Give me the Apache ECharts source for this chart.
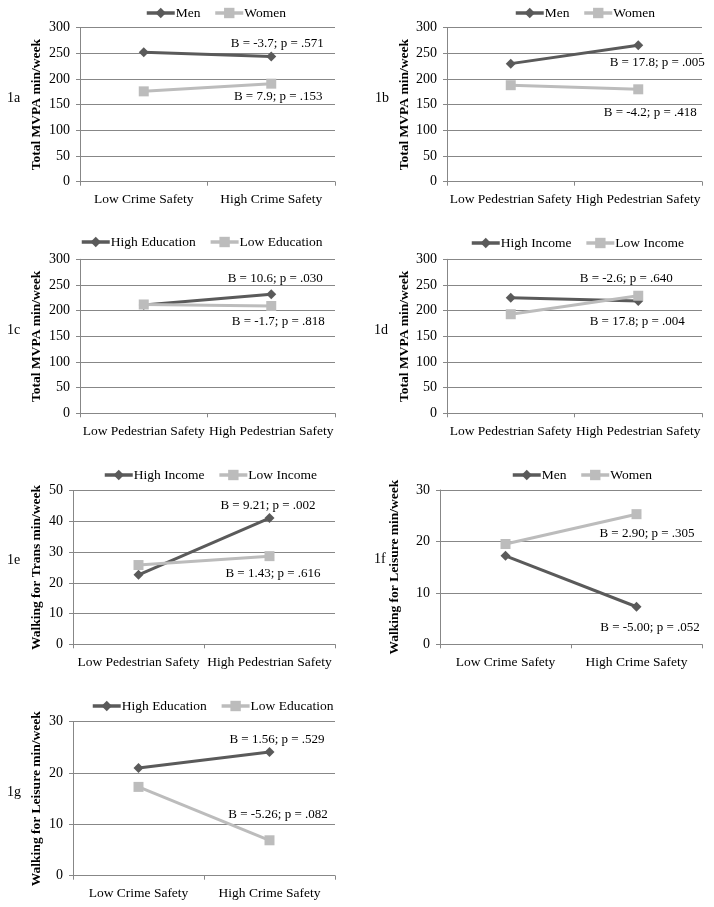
<!DOCTYPE html>
<html><head><meta charset="utf-8">
<script src="https://cdn.jsdelivr.net/npm/echarts@6/dist/echarts.min.js"></script>
<style>html,body{margin:0;padding:0;background:#fff}#c{width:714px;height:907px}</style>
</head><body><div id="c"></div>
<script>
// ---- categories ----
const crimeCats = ['Low Crime Safety', 'High Crime Safety'];
const pedCats = ['Low Pedestrian Safety', 'High Pedestrian Safety'];

// ---- panel labels / axis titles / scales ----
const panelLabels = ['1a', '1b', '1c', '1d', '1e', '1f', '1g'];
const yTitles = ['Total MVPA min/week', 'Total MVPA min/week', 'Total MVPA min/week', 'Total MVPA min/week',
  'Walking for Trans min/week', 'Walking for Leisure min/week', 'Walking for Leisure min/week'];
const yMax = [300, 300, 300, 300, 50, 30, 30];
const yStep = [50, 50, 50, 50, 10, 10, 10];

// ---- series names ----
const names1a = ['Men', 'Women'];
const names1b = ['Men', 'Women'];
const names1c = ['High Education', 'Low Education'];
const names1d = ['High Income', 'Low Income'];
const names1e = ['High Income', 'Low Income'];
const names1f = ['Men', 'Women'];
const names1g = ['High Education', 'Low Education'];

// ---- values ----
const dark1a = [252, 244], light1a = [176, 191];
const dark1b = [230, 266], light1b = [188, 180];
const dark1c = [211, 232], light1c = [212, 209];
const dark1d = [225, 219], light1d = [193, 229];
const dark1e = [22.6, 41.1], light1e = [25.8, 28.7];
const dark1f = [17.2, 7.3], light1f = [19.5, 25.3];
const dark1g = [21.0, 24.1], light1g = [17.3, 6.9];

// ---- annotations (dark, light) ----
const ann1a = ['B = -3.7; p = .571', 'B = 7.9; p = .153'];
const ann1b = ['B = 17.8; p = .005', 'B = -4.2; p = .418'];
const ann1c = ['B = 10.6; p = .030', 'B = -1.7; p = .818'];
const ann1d = ['B = -2.6; p = .640', 'B = 17.8; p = .004'];
const ann1e = ['B = 9.21; p = .002', 'B = 1.43; p = .616'];
const ann1f = ['B = -5.00; p = .052', 'B = 2.90; p = .305'];
const ann1g = ['B = 1.56; p = .529', 'B = -5.26; p = .082'];

const panelData = [
  {cats: crimeCats, names: names1a, dark: dark1a, light: light1a, ann: ann1a},
  {cats: pedCats, names: names1b, dark: dark1b, light: light1b, ann: ann1b},
  {cats: pedCats, names: names1c, dark: dark1c, light: light1c, ann: ann1c},
  {cats: pedCats, names: names1d, dark: dark1d, light: light1d, ann: ann1d},
  {cats: pedCats, names: names1e, dark: dark1e, light: light1e, ann: ann1e},
  {cats: crimeCats, names: names1f, dark: dark1f, light: light1f, ann: ann1f},
  {cats: crimeCats, names: names1g, dark: dark1g, light: light1g, ann: ann1g}
];

// ---- layout (styles only) ----
const layout = [
  {grid: {left: 80, top: 27.7, width: 255, height: 154}, gap: 36, legend: [145, 6], label: [7, 91], offD: [6, -13], offL: [7, 13]},
  {grid: {left: 447, top: 27.7, width: 255, height: 154}, gap: 35, legend: [514, 6], label: [375, 91], offD: [19, 17], offL: [12, 23]},
  {grid: {left: 80, top: 259.3, width: 255, height: 154}, gap: 36, legend: [80, 235], label: [7, 323], offD: [4, -16], offL: [7, 16]},
  {grid: {left: 447, top: 259.3, width: 255, height: 154}, gap: 35, legend: [470, 236], label: [374, 323], offD: [-12, -22], offL: [-1, 26]},
  {grid: {left: 73, top: 490.7, width: 262, height: 153.6}, gap: 29, legend: [103, 468], label: [7, 553], offD: [-1.5, -12], offL: [3.5, 17]},
  {grid: {left: 440, top: 490, width: 262, height: 154.3}, gap: 38, legend: [511, 468], label: [374, 552], offD: [13.5, 21], offL: [10.5, 19]},
  {grid: {left: 73, top: 721.7, width: 262, height: 154}, gap: 29, legend: [91, 699], label: [7, 785], offD: [7.5, -12], offL: [8.5, -26]}
];

const FONT = '"Liberation Serif", "Times New Roman", serif';
const DARK = '#5a5a5a', LIGHT = '#bcbcbc', AXIS = '#878787';

const grids = [], xAxes = [], yAxes = [], series = [], legends = [], titles = [];
panelData.forEach((p, i) => {
  const L = layout[i];
  grids.push(Object.assign({containLabel: false}, L.grid));
  xAxes.push({
    type: 'category', gridIndex: i, data: p.cats, boundaryGap: true,
    axisLine: {lineStyle: {color: AXIS, width: 1}},
    axisTick: {show: true, length: 4, interval: 0, lineStyle: {color: AXIS}},
    axisLabel: {color: '#000', fontFamily: FONT, fontSize: 13.5, margin: 11, interval: 0}
  });
  yAxes.push({
    type: 'value', gridIndex: i, min: 0, max: yMax[i], interval: yStep[i],
    name: yTitles[i], nameLocation: 'middle', nameRotate: 90, nameGap: L.gap,
    nameTextStyle: {color: '#000', fontFamily: FONT, fontSize: 13.5, fontWeight: 'bold'},
    axisLine: {show: true, lineStyle: {color: AXIS, width: 1}},
    axisTick: {show: true, length: 4, lineStyle: {color: AXIS}},
    axisLabel: {color: '#000', fontFamily: FONT, fontSize: 14, margin: 10},
    splitLine: {show: true, lineStyle: {color: AXIS, width: 1}}
  });
  const mk = (vals, text, off) => vals.map((v, k) => k === 1 ? {
    value: v,
    label: {show: true, formatter: text, position: 'inside', offset: off, align: 'center', verticalAlign: 'middle',
      color: '#000', fontFamily: FONT, fontSize: 13}
  } : v);
  series.push({
    type: 'line', name: p.names[0], xAxisIndex: i, yAxisIndex: i,
    data: mk(p.dark, p.ann[0], L.offD),
    symbol: 'diamond', symbolSize: 10, z: 2,
    lineStyle: {color: DARK, width: 3}, itemStyle: {color: DARK}
  });
  series.push({
    type: 'line', name: p.names[1], xAxisIndex: i, yAxisIndex: i,
    data: mk(p.light, p.ann[1], L.offL),
    symbol: 'rect', symbolSize: 10, z: 3,
    lineStyle: {color: LIGHT, width: 3}, itemStyle: {color: LIGHT}
  });
  legends.push({
    data: p.names, left: L.legend[0], top: L.legend[1], padding: 0,
    itemWidth: 28, itemHeight: 13, itemGap: 13, selectedMode: false,
    lineStyle: {width: 3.5},
    textStyle: {color: '#000', fontFamily: FONT, fontSize: 13.5, padding: [0, 0, 0, -4]}
  });
  titles.push({
    text: panelLabels[i], left: L.label[0], top: L.label[1], padding: 0,
    textStyle: {color: '#000', fontFamily: FONT, fontSize: 14, fontWeight: 'normal'}
  });
});

const chart = echarts.init(document.getElementById('c'), null, {renderer: 'canvas'});
chart.setOption({
  animation: false,
  backgroundColor: '#fff',
  title: titles,
  legend: legends,
  grid: grids,
  xAxis: xAxes,
  yAxis: yAxes,
  series: series
});
</script>
</body></html>
